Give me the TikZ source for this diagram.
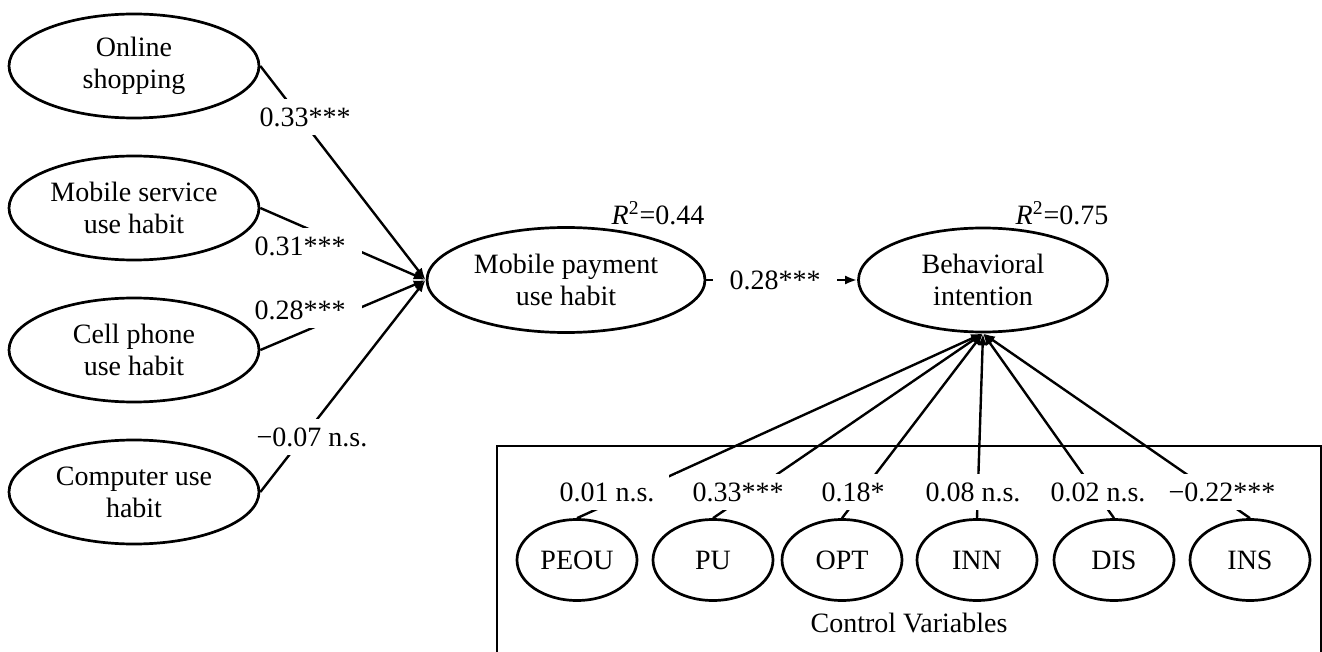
\documentclass[tikz,border=0pt]{standalone}
\usepackage{fontspec}
\setmainfont{Liberation Serif}
\usepackage{tikz}
\usetikzlibrary{shapes.geometric, arrows.meta, backgrounds}
\tikzstyle{construct} = [ellipse, draw, line width=1.35pt, fill=white, align=center,
                 inner sep=0pt, minimum width=125pt, minimum height=52pt]
\tikzstyle{control} = [construct, minimum width=60pt, minimum height=40.5pt]
\tikzstyle{branch} = [line width=1.2pt, draw, -{Latex[length=6pt,width=4.5pt]}]
\tikzset{
	coef/.style={fill=white, inner sep=0pt, minimum width=62pt, minimum height=18pt},
	rsq/.style={inner sep=0pt},
}

\begin{document}
\begin{tikzpicture}[x=0.5pt, y=-0.5pt, font=\fontsize{14}{16}\selectfont]

\useasboundingbox (0,0) rectangle (1322,652);
\clip (0,0) rectangle (1322,652);

\node [construct] at (134,66) (os) {Online\\shopping};
\node [construct] at (134,208) (ms) {Mobile service\\use habit};
\node [construct] at (134,350) (cp) {Cell phone\\use habit};
\node [construct] at (134,492) (cu) {Computer use\\habit};

\node [construct, minimum width=139pt, minimum height=52.5pt] at (566,280) (mp) {Mobile payment\\use habit};
\node [construct, minimum width=124.5pt] at (983,280) (bi) {Behavioral\\intention};

\node [rsq] at (658,213) (r1) {\textit{R}\textsuperscript{2}=0.44};
\node [rsq] at (1062,213) (r2) {\textit{R}\textsuperscript{2}=0.75};

	%controls
\draw [line width=1.35pt] (497,660) -- (497,446) -- (1321,446) -- (1321,660);
\node [control] at (577,560) (peou) {PEOU};
\node [control] at (713,560) (pu) {PU};
\node [control] at (842,560) (opt) {OPT};
\node [control] at (977,560) (inn) {INN};
\node [control] at (1114,560) (dis) {DIS};
\node [control] at (1250,560) (ins) {INS};
\node at (909,623) (cv) {Control Variables};

\begin{pgfonlayer}{background}
\path [branch] (os.east) -- (mp.west);
\path [branch] (ms.east) -- (mp.west);
\path [branch] (cp.east) -- (mp.west);
\path [branch] (cu.east) -- (mp.west);
\path [branch] (mp.east) -- (bi.west);
\path [branch] (peou.north) -- (bi.south);
\path [branch] (pu.north) -- (bi.south);
\path [branch] (opt.north) -- (bi.south);
\path [branch] (inn.north) -- (bi.south);
\path [branch] (dis.north) -- (bi.south);
\path [branch] (ins.north) -- (bi.south);

\node [coef] at (305,117) (c1) {0.33***};
\node [coef] at (300,246) (c2) {0.31***};
\node [coef] at (300,310) (c3) {0.28***};
\node [coef] at (312,437) (c4) {−0.07 n.s.};
\node [coef] at (775,280) (c5) {0.28***};
\node [coef] at (607,492) (c6) {0.01 n.s.};
\node [coef] at (738,492) (c7) {0.33***};
\node [coef] at (853,492) (c8) {0.18*};
\node [coef] at (973,492) (c9) {0.08 n.s.};
\node [coef] at (1098,492) (c10) {0.02 n.s.};
\node [coef] at (1222,492) (c11) {−0.22***};
\end{pgfonlayer}

\end{tikzpicture}
\end{document}
